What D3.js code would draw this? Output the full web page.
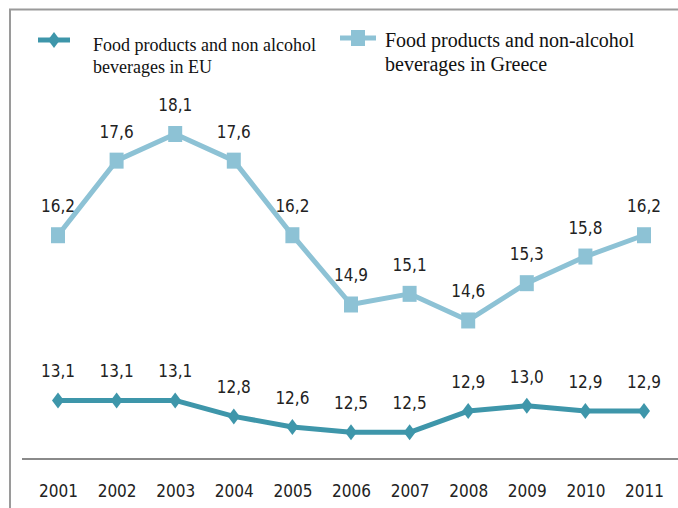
<!DOCTYPE html>
<html>
<head>
<meta charset="utf-8">
<script src="https://cdn.jsdelivr.net/npm/d3@7"></script>
<style>
  body { margin: 0; background: #fff; }
  svg { display: block; }
  .lbl { font-family: "Liberation Sans Narrow", "DejaVu Sans Condensed", sans-serif; font-size: 17px; fill: #222; }
  .leg { font-family: "Liberation Serif", serif; fill: #111; }
</style>
</head>
<body>
<div id="chart"></div>
<script>
const years = ["2001","2002","2003","2004","2005","2006","2007","2008","2009","2010","2011"];
const euValues = [13.1, 13.1, 13.1, 12.8, 12.6, 12.5, 12.5, 12.9, 13.0, 12.9, 12.9];
const greeceValues = [16.2, 17.6, 18.1, 17.6, 16.2, 14.9, 15.1, 14.6, 15.3, 15.8, 16.2];
const euName = ["Food products and non alcohol", "beverages in EU"];
const greeceName = ["Food products and non-alcohol", "beverages in Greece"];

const W = 678, H = 508;
const euColor = "#3e96aa", grColor = "#8dc2d5";

const svg = d3.select("#chart").append("svg").attr("width", W).attr("height", H);

// frame
svg.append("path").attr("d", `M10,${H} L10,9.5 L${W},9.5`)
  .attr("fill", "none").attr("stroke", "#9a9a9a").attr("stroke-width", 2);

const x = d3.scalePoint().domain(years).range([58, 644]);
const y = d3.scaleLinear().domain([12, 18.1]).range([459, 134]);

// axis
const xAxis = d3.axisBottom(x).tickSize(0).tickPadding(0);
const ax = svg.append("g").attr("transform", "translate(0,459)").call(xAxis);
ax.select(".domain").remove();
ax.append("line").attr("x1", 22).attr("x2", W).attr("y1", 0).attr("y2", 0)
  .attr("stroke", "#8a8a8a").attr("stroke-width", 2);
ax.selectAll(".tick text").attr("class", "lbl").attr("dy", 0).attr("y", 38)
  .attr("fill", "#222");

const fmt = v => d3.format(".1f")(v).replace(".", ",");
const line = d3.line().x((d, i) => x(years[i])).y(d => y(d));

function series(vals, color, marker) {
  const g = svg.append("g");
  g.append("path").datum(vals).attr("d", line)
    .attr("fill", "none").attr("stroke", color).attr("stroke-width", 5)
    .attr("stroke-linejoin", "round");
  g.selectAll(".m").data(vals).enter().append("path")
    .attr("transform", (d, i) => `translate(${x(years[i])},${y(d)})`)
    .attr("d", marker).attr("fill", color);
  g.selectAll(".t").data(vals).enter().append("text")
    .attr("class", "lbl").attr("text-anchor", "middle")
    .attr("x", (d, i) => x(years[i])).attr("y", d => y(d) - 23)
    .text(fmt);
}
const diamond = "M0,-8 L6,0 L0,8 L-6,0 Z";
const square = "M-7,-8 L7,-8 L7,8 L-7,8 Z";

series(greeceValues, grColor, square);
series(euValues, euColor, diamond);

// legend
const leg = svg.append("g");
leg.append("line").attr("x1", 38).attr("x2", 70).attr("y1", 40).attr("y2", 40)
  .attr("stroke", euColor).attr("stroke-width", 5);
leg.append("path").attr("transform", "translate(54,40)").attr("d", diamond).attr("fill", euColor);
leg.append("text").attr("class", "leg").attr("x", 93).attr("y", 51).attr("font-size", 18)
  .selectAll("tspan").data(euName).enter().append("tspan")
  .attr("x", 93).attr("dy", (d, i) => i ? 22 : 0).text(d => d);

leg.append("line").attr("x1", 340).attr("x2", 376).attr("y1", 38).attr("y2", 38)
  .attr("stroke", grColor).attr("stroke-width", 5);
leg.append("path").attr("transform", "translate(358,38)").attr("d", square).attr("fill", grColor);
leg.append("text").attr("class", "leg").attr("x", 385).attr("y", 47).attr("font-size", 20)
  .selectAll("tspan").data(greeceName).enter().append("tspan")
  .attr("x", 385).attr("dy", (d, i) => i ? 24 : 0).text(d => d);
</script>
</body>
</html>
